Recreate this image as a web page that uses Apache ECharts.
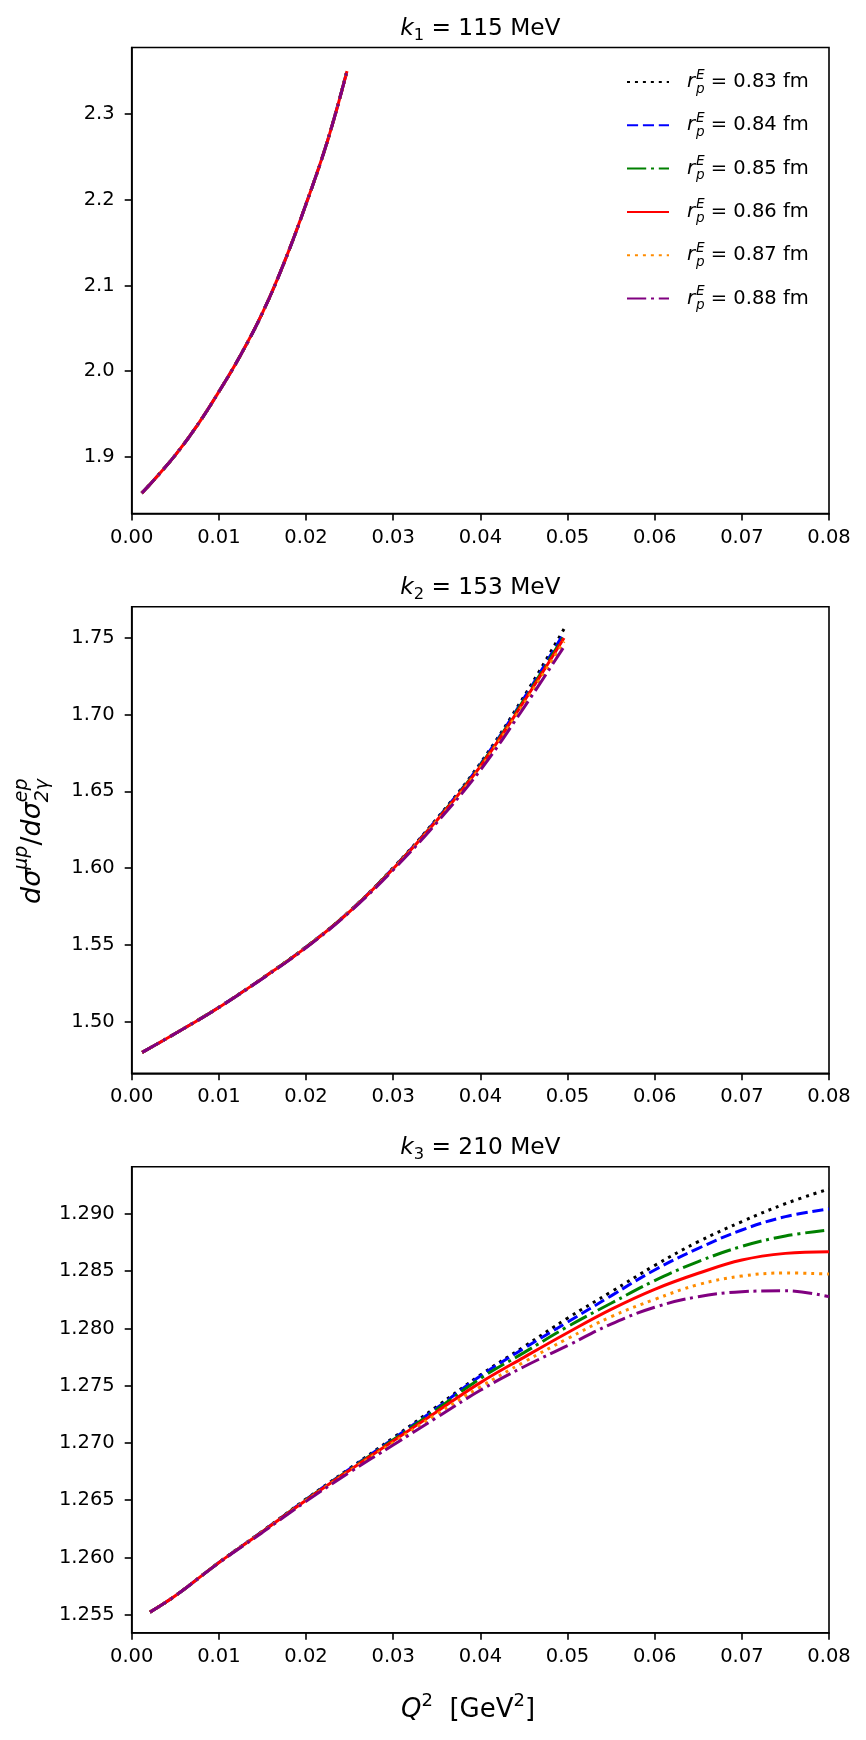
<!DOCTYPE html>
<html>
<head>
<meta charset="utf-8">
<script src="https://cdn.jsdelivr.net/npm/echarts@6/dist/echarts.min.js"></script>
<style>
html,body{margin:0;padding:0;background:#fff;}
#chart{width:866px;height:1740px;}
</style>
</head>
<body>
<div id="chart"></div>
<script>
// ---------------- DATA ----------------
const radii = ['0.83', '0.84', '0.85', '0.86', '0.87', '0.88'];
const xTicks = [0, 0.01, 0.02, 0.03, 0.04, 0.05, 0.06, 0.07, 0.08];
const yTicks1 = [1.9, 2.0, 2.1, 2.2, 2.3];
const yTicks2 = [1.50, 1.55, 1.60, 1.65, 1.70, 1.75];
const yTicks3 = [1.255, 1.260, 1.265, 1.270, 1.275, 1.280, 1.285, 1.290];

// Panel 1: k1 = 115 MeV (all radii coincide)
const k1_q = [0.00115, 0.0025, 0.005, 0.0075, 0.01, 0.0125, 0.015, 0.0175, 0.02, 0.0225, 0.0247];
const k1_r083 = [1.8577, 1.8725, 1.9020, 1.9365, 1.9760, 2.0190, 2.0680, 2.1270, 2.1950, 2.2700, 2.3506];
const k1_r084 = [1.8577, 1.8725, 1.9020, 1.9365, 1.9760, 2.0190, 2.0680, 2.1270, 2.1950, 2.2700, 2.3505];
const k1_r085 = [1.8577, 1.8725, 1.9020, 1.9365, 1.9760, 2.0190, 2.0680, 2.1270, 2.1950, 2.2700, 2.3504];
const k1_r086 = [1.8577, 1.8725, 1.9020, 1.9365, 1.9760, 2.0190, 2.0680, 2.1270, 2.1950, 2.2700, 2.3503];
const k1_r087 = [1.8577, 1.8725, 1.9020, 1.9365, 1.9760, 2.0190, 2.0680, 2.1270, 2.1950, 2.2700, 2.3502];
const k1_r088 = [1.8577, 1.8725, 1.9020, 1.9365, 1.9760, 2.0190, 2.0680, 2.1270, 2.1950, 2.2700, 2.3500];

// Panel 2: k2 = 153 MeV
const k2_q = [0.0012, 0.005, 0.01, 0.015, 0.02, 0.025, 0.03, 0.035, 0.04, 0.045, 0.0496];
const k2_r083 = [1.4800, 1.4923, 1.5094, 1.5284, 1.5487, 1.5720, 1.6002, 1.6322, 1.6683, 1.7117, 1.7557];
const k2_r084 = [1.4800, 1.4923, 1.5094, 1.5283, 1.5486, 1.5719, 1.6000, 1.6318, 1.6676, 1.7105, 1.7532];
const k2_r085 = [1.4800, 1.4923, 1.5093, 1.5282, 1.5485, 1.5718, 1.5998, 1.6314, 1.6670, 1.7095, 1.7512];
const k2_r086 = [1.4800, 1.4923, 1.5093, 1.5282, 1.5484, 1.5717, 1.5996, 1.6310, 1.6663, 1.7085, 1.7498];
const k2_r087 = [1.4800, 1.4923, 1.5093, 1.5281, 1.5483, 1.5716, 1.5993, 1.6304, 1.6653, 1.7070, 1.7476];
const k2_r088 = [1.4800, 1.4923, 1.5092, 1.5280, 1.5481, 1.5714, 1.5988, 1.6296, 1.6638, 1.7045, 1.7442];

// Panel 3: k3 = 210 MeV
const k3_q = [0.0021, 0.005, 0.01, 0.015, 0.02, 0.025, 0.03, 0.035, 0.04, 0.045, 0.05, 0.055, 0.06, 0.065, 0.07, 0.075, 0.08];
const k3_r083 = [1.25523, 1.25665, 1.25957, 1.26230, 1.26510, 1.26778, 1.27045, 1.27318, 1.27594, 1.27841, 1.28090, 1.28320, 1.28550, 1.28758, 1.28933, 1.29090, 1.29218];
const k3_r084 = [1.25523, 1.25665, 1.25956, 1.26228, 1.26507, 1.26773, 1.27036, 1.27305, 1.27585, 1.27826, 1.28055, 1.28285, 1.28511, 1.28700, 1.28860, 1.28977, 1.29044];
const k3_r085 = [1.25523, 1.25665, 1.25955, 1.26226, 1.26504, 1.26768, 1.27028, 1.27292, 1.27564, 1.27789, 1.28016, 1.28220, 1.28418, 1.28584, 1.28717, 1.28808, 1.28860];
const k3_r086 = [1.25523, 1.25665, 1.25955, 1.26225, 1.26500, 1.26762, 1.27017, 1.27273, 1.27527, 1.27748, 1.27963, 1.28167, 1.28342, 1.28482, 1.28598, 1.28656, 1.28671];
const k3_r087 = [1.25523, 1.25665, 1.25954, 1.26222, 1.26495, 1.26753, 1.27003, 1.27252, 1.27490, 1.27707, 1.27911, 1.28103, 1.28254, 1.28383, 1.28458, 1.28485, 1.28476];
const k3_r088 = [1.25523, 1.25665, 1.25953, 1.26219, 1.26490, 1.26744, 1.26982, 1.27222, 1.27460, 1.27666, 1.27850, 1.28039, 1.28185, 1.28278, 1.28321, 1.28330, 1.28278];

// ---------------- STYLE ----------------
const FONT = 'DejaVu Sans';
const colors = ['#000000', '#0000ff', '#008000', '#ff0000', '#ff8c00', '#800080'];
const LW = 3;
const dashes = [
  [3, 4.95],              // dotted
  [11.1, 4.8],            // dashed
  [19.2, 4.8, 3, 4.8],    // dash-dot
  'solid',
  [3, 4.95],              // dotted
  [19.2, 4.8, 3, 4.8]     // dash-dot
];

const panels = [
  { q: k1_q, ys: [k1_r083, k1_r084, k1_r085, k1_r086, k1_r087, k1_r088], ymin: 1.8339, ymax: 2.3778, ticks: yTicks1, dec: 1, top: 47.5, h: 466 },
  { q: k2_q, ys: [k2_r083, k2_r084, k2_r085, k2_r086, k2_r087, k2_r088], ymin: 1.4664, ymax: 1.7702, ticks: yTicks2, dec: 2, top: 606.7, h: 466.6 },
  { q: k3_q, ys: [k3_r083, k3_r084, k3_r085, k3_r086, k3_r087, k3_r088], ymin: 1.25343, ymax: 1.29413, ticks: yTicks3, dec: 3, top: 1166.7, h: 466 }
];
const titles = [['1', '115'], ['2', '153'], ['3', '210']];

const GL = 131.7, GW = 697.3;
const grids = [], xAxes = [], yAxes = [], series = [], graphics = [];

panels.forEach((p, i) => {
  grids.push({ left: GL, top: p.top, width: GW, height: p.h, show: true, borderColor: '#000', borderWidth: 1.6, backgroundColor: 'transparent' });
  xAxes.push({
    type: 'value', gridIndex: i, min: 0, max: 0.08, interval: 0.01,
    axisLine: { show: true, onZero: false, lineStyle: { color: '#000', width: 1.6 } },
    axisTick: { show: true, length: 7, lineStyle: { color: '#000', width: 1.6 }, customValues: xTicks },
    axisLabel: { show: true, margin: 14, color: '#000', fontFamily: FONT, fontSize: 19.5, customValues: xTicks, formatter: v => Number(v).toFixed(2) },
    splitLine: { show: false }
  });
  yAxes.push({
    type: 'value', gridIndex: i, min: p.ymin, max: p.ymax,
    axisLine: { show: true, onZero: false, lineStyle: { color: '#000', width: 1.6 } },
    axisTick: { show: true, length: 7, lineStyle: { color: '#000', width: 1.6 }, customValues: p.ticks },
    axisLabel: { show: true, margin: 17, color: '#000', fontFamily: FONT, fontSize: 19.5, customValues: p.ticks, formatter: v => Number(v).toFixed(p.dec) },
    splitLine: { show: false }
  });
  p.ys.forEach((ys, j) => {
    series.push({
      type: 'line', name: radii[j], xAxisIndex: i, yAxisIndex: i,
      data: p.q.map((x, k) => [x, ys[k]]),
      symbol: 'none', showSymbol: false, smooth: 0.4,
      lineStyle: { color: colors[j], width: LW, type: dashes[j], cap: 'butt' },
      itemStyle: { color: colors[j] },
      emphasis: { disabled: true }, silent: true
    });
  });
  graphics.push({
    type: 'text', x: GL + GW / 2, y: p.top - 19,
    style: {
      text: '{k|k}{s|' + titles[i][0] + '}{n| = ' + titles[i][1] + ' MeV}',
      align: 'center', verticalAlign: 'middle', fill: '#000',
      rich: {
        k: { fontFamily: FONT, fontStyle: 'italic', fontSize: 23.3, lineHeight: 30, fill: '#000' },
        s: { fontFamily: FONT, fontSize: 16.3, lineHeight: 16, verticalAlign: 'bottom', fill: '#000' },
        n: { fontFamily: FONT, fontSize: 23.3, lineHeight: 30, fill: '#000' }
      }
    }
  });
});

// axis labels
graphics.push({
  type: 'text', x: 33, y: 904, rotation: Math.PI / 2,
  style: {
    text: '{m|dσ}{sup|μp}{n|/}{m|dσ}{sub|2γ}{sup|ep}',
    align: 'left', verticalAlign: 'middle', fill: '#000',
    rich: {
      m: { fontFamily: FONT, fontStyle: 'italic', fontSize: 27, lineHeight: 40, fill: '#000' },
      n: { fontFamily: FONT, fontSize: 27, lineHeight: 40, fill: '#000' },
      sup: { fontFamily: FONT, fontStyle: 'italic', fontSize: 19, lineHeight: 24, verticalAlign: 'top', fill: '#000' },
      sub: { fontFamily: FONT, fontStyle: 'italic', fontSize: 19, lineHeight: 20, width: 0, verticalAlign: 'bottom', fill: '#000' }
    }
  }
});
graphics.push({
  type: 'text', x: 468, y: 1710,
  style: {
    text: '{q|Q}{s|2}{n|  [GeV}{s|2}{n|]}',
    align: 'center', verticalAlign: 'middle', fill: '#000',
    rich: {
      q: { fontFamily: FONT, fontStyle: 'italic', fontSize: 26, lineHeight: 36, fill: '#000' },
      n: { fontFamily: FONT, fontSize: 26, lineHeight: 36, fill: '#000' },
      s: { fontFamily: FONT, fontSize: 18, lineHeight: 22, verticalAlign: 'top', fill: '#000' }
    }
  }
});

const chart = echarts.init(document.getElementById('chart'), null, { renderer: 'canvas' });
chart.setOption({
  animation: false,
  backgroundColor: '#fff',
  grid: grids,
  xAxis: xAxes,
  yAxis: yAxes,
  series: series,
  legend: {
    data: radii, left: 626, top: 68, orient: 'vertical', padding: 0,
    itemWidth: 42, itemHeight: 14, itemGap: 15.3, selectedMode: false,
    itemStyle: { opacity: 0, borderWidth: 0 },
    formatter: n => '{r|r}{p|p}{e|E}{n| = ' + n + ' fm}',
    textStyle: {
      fontFamily: FONT, fontSize: 19.5, color: '#000',
      rich: {
        r: { fontFamily: FONT, fontStyle: 'italic', fontSize: 19.5, lineHeight: 28, padding: [0, 1, 0, 13], color: '#000' },
        p: { fontFamily: FONT, fontStyle: 'italic', fontSize: 13.6, lineHeight: 13, width: 0, align: 'left', verticalAlign: 'bottom', color: '#000' },
        e: { fontFamily: FONT, fontStyle: 'italic', fontSize: 13.6, lineHeight: 17, verticalAlign: 'top', color: '#000' },
        n: { fontFamily: FONT, fontSize: 19.5, lineHeight: 28, color: '#000' }
      }
    }
  },
  graphic: graphics
});
</script>
</body>
</html>
